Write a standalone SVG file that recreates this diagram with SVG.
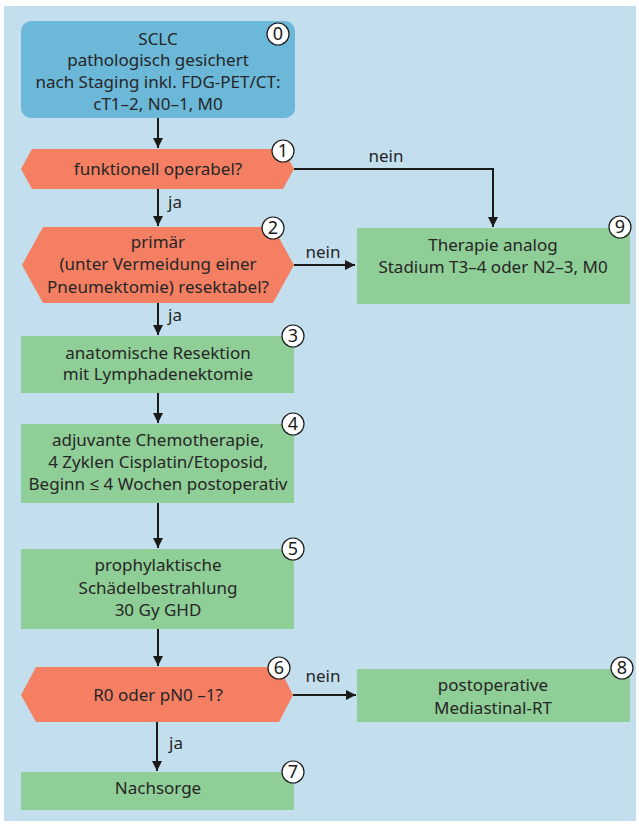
<svg xmlns="http://www.w3.org/2000/svg" width="639" height="825" viewBox="0 0 639 825">
<defs>
<style>
.t{font-family:"Noto Sans","Open Sans",sans-serif;font-size:17px;fill:#262626;text-anchor:middle}
.lbl{font-family:"Noto Sans","Open Sans",sans-serif;font-size:17px;fill:#262626;text-anchor:middle}
.num{font-family:"Noto Sans","Open Sans",sans-serif;font-size:18px;fill:#1a1a1a;text-anchor:middle}
.blue{fill:#6cb8d9}
.orange{fill:#f47f62}
.green{fill:#8fce96}
.circ{fill:#ffffff;stroke:#1a1a1a;stroke-width:1.2}
.edge{fill:none;stroke:#1a1a1a;stroke-width:2}
</style>
<marker id="ah" viewBox="0 0 10 10" refX="10" refY="5" markerWidth="5" markerHeight="5" markerUnits="strokeWidth" orient="auto">
<path d="M0,0 L10,5 L0,10 z" fill="#1a1a1a"/>
</marker>
</defs>
<rect x="4" y="6" width="632" height="815" fill="#c3dfee"/>
<g id="connectors">
<line class="edge" x1="158" y1="118" x2="158" y2="148" marker-end="url(#ah)"/>
<polyline class="edge" points="294,169 493,169 493,227" marker-end="url(#ah)"/>
<text class="lbl" x="386" y="162">nein</text>
<line class="edge" x1="158" y1="189" x2="158" y2="226" marker-end="url(#ah)"/>
<text class="lbl" x="175" y="208">ja</text>
<line class="edge" x1="294" y1="265" x2="355" y2="265" marker-end="url(#ah)"/>
<text class="lbl" x="323" y="258">nein</text>
<line class="edge" x1="158" y1="303" x2="158" y2="335" marker-end="url(#ah)"/>
<text class="lbl" x="175" y="321">ja</text>
<line class="edge" x1="158" y1="393" x2="158" y2="423" marker-end="url(#ah)"/>
<line class="edge" x1="158" y1="503" x2="158" y2="548" marker-end="url(#ah)"/>
<line class="edge" x1="158" y1="629" x2="158" y2="666" marker-end="url(#ah)"/>
<line class="edge" x1="293" y1="695" x2="356" y2="695" marker-end="url(#ah)"/>
<text class="lbl" x="323" y="682">nein</text>
<line class="edge" x1="157" y1="722" x2="157" y2="771" marker-end="url(#ah)"/>
<text class="lbl" x="176" y="749">ja</text>
</g>
<g id="node0">
<rect class="blue" x="21" y="21" width="274" height="97" rx="10" ry="10"/>
<text class="t" x="158" y="45">SCLC</text>
<text class="t" x="158" y="66">pathologisch gesichert</text>
<text class="t" x="158" y="88">nach Staging inkl. FDG-PET/CT:</text>
<text class="t" x="158" y="110">cT1–2, N0–1, M0</text>
<circle class="circ" cx="278" cy="34" r="11"/>
<text class="num" x="278" y="40">0</text>
</g>
<g id="node1">
<polygon class="orange" points="21,169 32,149 283,149 294,169 283,189 32,189"/>
<text class="t" x="158" y="175">funktionell operabel?</text>
<circle class="circ" cx="283" cy="151" r="11"/>
<text class="num" x="283" y="157">1</text>
</g>
<g id="node2">
<polygon class="orange" points="22,265 43,227 273,227 294,265 273,303 43,303"/>
<text class="t" x="158" y="248">primär</text>
<text class="t" x="158" y="270">(unter Vermeidung einer</text>
<text class="t" x="158" y="293">Pneumektomie) resektabel?</text>
<circle class="circ" cx="273" cy="228" r="11"/>
<text class="num" x="273" y="234">2</text>
</g>
<g id="node3">
<rect class="green" x="21" y="336" width="273" height="57"/>
<text class="t" x="158" y="359">anatomische Resektion</text>
<text class="t" x="158" y="380">mit Lymphadenektomie</text>
<circle class="circ" cx="293" cy="336" r="11"/>
<text class="num" x="293" y="342">3</text>
</g>
<g id="node4">
<rect class="green" x="21" y="424" width="273" height="79"/>
<text class="t" x="158" y="446">adjuvante Chemotherapie,</text>
<text class="t" x="158" y="468">4 Zyklen Cisplatin/Etoposid,</text>
<text class="t" x="158" y="490">Beginn ≤ 4 Wochen postoperativ</text>
<circle class="circ" cx="293" cy="424" r="11"/>
<text class="num" x="293" y="430">4</text>
</g>
<g id="node5">
<rect class="green" x="21" y="549" width="273" height="80"/>
<text class="t" x="158" y="571">prophylaktische</text>
<text class="t" x="158" y="594">Schädelbestrahlung</text>
<text class="t" x="158" y="616">30 Gy GHD</text>
<circle class="circ" cx="293" cy="549" r="11"/>
<text class="num" x="293" y="555">5</text>
</g>
<g id="node6">
<polygon class="orange" points="21,695 36,667 279,667 293,695 279,722 36,722"/>
<text class="t" x="158" y="701">R0 oder pN0 –1?</text>
<circle class="circ" cx="279" cy="668" r="11"/>
<text class="num" x="279" y="674">6</text>
</g>
<g id="node7">
<rect class="green" x="21" y="772" width="273" height="38"/>
<text class="t" x="158" y="794">Nachsorge</text>
<circle class="circ" cx="293" cy="772" r="11"/>
<text class="num" x="293" y="778">7</text>
</g>
<g id="node8">
<rect class="green" x="357" y="669" width="273" height="53"/>
<text class="t" x="493" y="691">postoperative</text>
<text class="t" x="493" y="714">Mediastinal-RT</text>
<circle class="circ" cx="622" cy="668" r="11"/>
<text class="num" x="622" y="674">8</text>
</g>
<g id="node9">
<rect class="green" x="357" y="228" width="273" height="76"/>
<text class="t" x="493" y="251">Therapie analog</text>
<text class="t" x="493" y="273">Stadium T3–4 oder N2–3, M0</text>
<circle class="circ" cx="620" cy="227" r="11"/>
<text class="num" x="620" y="233">9</text>
</g>
</svg>
